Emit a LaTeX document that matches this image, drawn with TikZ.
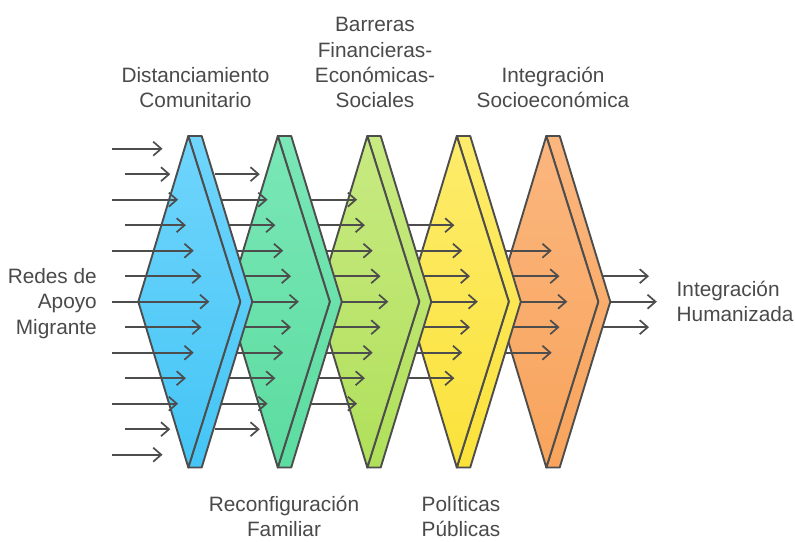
\documentclass[tikz,border=0pt]{standalone}
\usepackage{fontspec}
\setmainfont{Liberation Sans}
\usetikzlibrary{arrows.meta}
\definecolor{ink}{HTML}{4D4D4D}
\definecolor{txt}{HTML}{4A4A4A}
\definecolor{blueT}{HTML}{70D5FC}
\definecolor{blueB}{HTML}{44C5F5}
\definecolor{greenT}{HTML}{7AE7B7}
\definecolor{greenB}{HTML}{5CDCA0}
\definecolor{limeT}{HTML}{C8EA82}
\definecolor{limeB}{HTML}{B0E05A}
\definecolor{yelT}{HTML}{FDEC6C}
\definecolor{yelB}{HTML}{FBE23A}
\definecolor{oraT}{HTML}{FBB67E}
\definecolor{oraB}{HTML}{F8A45C}
\tikzset{
  flow/.style={draw=ink, line width=1.7pt, -{Straight Barb[length=8pt,width=14pt]}},
  prismline/.style={draw=ink, line width=1.9pt, line join=round},
  lbl/.style={font=\fontsize{20.8}{25.3}\selectfont, text=txt, inner sep=0pt}
}
\newcommand\flowset[1]{%
  \pgfmathsetmacro\Tj{188.3+89.5*(#1-1)}%
  \pgfmathtruncatemacro\nk{7-#1}%
  \pgfmathtruncatemacro\lo{-\nk}%
  \foreach \k in {\lo,...,\nk}{%
    \pgfmathsetmacro\yy{301.7+25.5*\k}%
    \pgfmathsetmacro\xs{\Tj-76+13*mod(abs(\k),2)}%
    \pgfmathsetmacro\xt{\Tj+21-7.8*abs(\k)}%
    \coordinate (s#1\k) at (\xs,\yy);
    \coordinate (t#1\k) at (\xt,\yy);
    \draw[flow] (s#1\k) -- (t#1\k);
  }%
}
\newcommand\prismshape[3]{%
  \pgfmathsetmacro\Ti{188.3+89.5*(#1-1)}%
  \coordinate (A#1) at (\Ti,136);
  \coordinate (B#1) at (\Ti+13.4,136);
  \coordinate (C#1) at (\Ti+64,301.7);
  \coordinate (D#1) at (\Ti+13.4,467.5);
  \coordinate (E#1) at (\Ti,467.5);
  \coordinate (F#1) at (\Ti+52,301.7);
  \coordinate (G#1) at (\Ti-50,301.7);
  \draw[prismline, top color=#2, bottom color=#3] (A#1) -- (B#1) -- (C#1) -- (D#1) -- (E#1) -- (F#1) -- cycle;
  \draw[prismline, top color=#2, bottom color=#3] (A#1) -- (F#1) -- (E#1) -- (G#1) -- cycle;
}
\begin{document}
\begin{tikzpicture}[x=1pt,y=-1pt]
\useasboundingbox (0,0) rectangle (795,541);
\fill[white] (0,0) rectangle (795,541);
\flowset{6}
\prismshape{5}{oraT}{oraB}
\flowset{5}
\prismshape{4}{yelT}{yelB}
\flowset{4}
\prismshape{3}{limeT}{limeB}
\flowset{3}
\prismshape{2}{greenT}{greenB}
\flowset{2}
\prismshape{1}{blueT}{blueB}
\flowset{1}
\node[lbl, align=right, anchor=east] (src) at (97,303.4) {Redes de\\Apoyo\\Migrante};
\node[lbl, align=left, anchor=west] (dst) at (676.5,301.2) {Integración\\Humanizada};
\node[lbl, align=center, anchor=south] (l1) at (195.5,108.3) {Distanciamiento\\Comunitario};
\node[lbl, align=center, anchor=south] (l3) at (375,108.3) {Barreras\\Financieras-\\Económicas-\\Sociales};
\node[lbl, align=center, anchor=south] (l5) at (553,108.3) {Integración\\Socioeconómica};
\node[lbl, align=center, anchor=north] (l2) at (284,495.5) {Reconfiguración\\Familiar};
\node[lbl, align=center, anchor=north] (l4) at (461,495.5) {Políticas\\Públicas};
\end{tikzpicture}
\end{document}
